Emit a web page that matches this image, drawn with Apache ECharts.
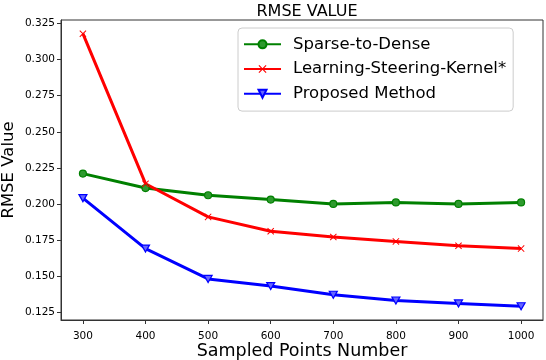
<html>
<head>
<script src="https://cdn.jsdelivr.net/npm/echarts@6/dist/echarts.min.js"></script>
<style>
body { margin: 0; background: #fff; }
#container { width: 546px; height: 360px; }
</style>
</head>
<body>
<div id="container"></div>
<script>
var pointsNum = [300, 400, 500, 600, 700, 800, 900, 1000];
var sparseToDense = [0.221, 0.211, 0.206, 0.203, 0.200, 0.201, 0.200, 0.201];
var steeringKernel = [0.318, 0.214, 0.191, 0.181, 0.177, 0.174, 0.171, 0.169];
var proposed = [0.204, 0.169, 0.148, 0.143, 0.137, 0.133, 0.131, 0.129];
var xTicks = [300, 400, 500, 600, 700, 800, 900, 1000];
var yTicks = [0.125, 0.150, 0.175, 0.200, 0.225, 0.250, 0.275, 0.300, 0.325];

function pairs(vals) {
  return pointsNum.map(function (x, i) { return [x, vals[i]]; });
}

var font = 'DejaVu Sans';
var xMark = 'path://M0,1L1,0L5,4L9,0L10,1L6,5L10,9L9,10L5,6L1,10L0,9L4,5Z';
var triDown = 'path://M0,0L10,0L5,9Z';

var myChart = echarts.init(document.getElementById('container'));
var option = {
  animation: false,
  textStyle: { fontFamily: font },
  title: {
    text: 'RMSE VALUE',
    left: 302, top: -9, textAlign: 'center',
    textStyle: { fontFamily: font, fontSize: 16, fontWeight: 'normal', color: '#000' }
  },
  grid: {
    left: 61, right: 3, top: 20, bottom: 40,
    containLabel: false, outerBoundsMode: 'none',
    show: true, borderColor: '#333', borderWidth: 1, backgroundColor: 'transparent'
  },
  legend: {
    left: 238, top: 28, orient: 'vertical',
    itemWidth: 37, itemHeight: 10, itemGap: -8,
    padding: [0, 7, 1, 5],
    backgroundColor: 'rgba(255,255,255,0.85)',
    borderColor: '#ccc', borderWidth: 1, borderRadius: 4,
    textStyle: { fontFamily: font, fontSize: 16.5, color: '#000', padding: [0, 0, 0, 7] },
    data: ['Sparse-to-Dense', 'Learning-Steering-Kernel*', 'Proposed Method']
  },
  xAxis: {
    type: 'value', min: 265, max: 1035,
    name: 'Sampled Points Number', nameLocation: 'middle', nameGap: 14,
    nameMoveOverlap: false,
    nameTextStyle: { fontFamily: font, fontSize: 17.5, color: '#000' },
    splitLine: { show: false },
    axisLine: { lineStyle: { color: '#333', width: 1 } },
    axisTick: { customValues: xTicks, length: 4, lineStyle: { color: '#333' } },
    axisLabel: {
      customValues: xTicks, fontSize: 10.5, color: '#000', margin: 6,
      formatter: function (v) { return String(v); }
    }
  },
  yAxis: {
    type: 'value', min: 0.1195, max: 0.3275,
    name: 'RMSE Value', nameLocation: 'middle', nameGap: 36,
    nameMoveOverlap: false,
    nameTextStyle: { fontFamily: font, fontSize: 16.5, color: '#000' },
    splitLine: { show: false },
    axisLine: { show: true, lineStyle: { color: '#333', width: 1 } },
    axisTick: { show: true, customValues: yTicks, length: 4, lineStyle: { color: '#333' } },
    axisLabel: {
      customValues: yTicks, fontSize: 10.5, color: '#000', margin: 6,
      formatter: function (v) { return v.toFixed(3); }
    }
  },
  series: [
    {
      name: 'Sparse-to-Dense', type: 'line', data: pairs(sparseToDense),
      symbol: 'circle', symbolSize: 7,
      lineStyle: { color: 'green', width: 3 },
      itemStyle: { color: '#2e9a2e', borderColor: 'green', borderWidth: 1.2 }
    },
    {
      name: 'Learning-Steering-Kernel*', type: 'line', data: pairs(steeringKernel),
      symbol: xMark, symbolSize: 7,
      lineStyle: { color: 'red', width: 3 },
      itemStyle: { color: 'red' }
    },
    {
      name: 'Proposed Method', type: 'line', data: pairs(proposed),
      symbol: triDown, symbolSize: [8, 7],
      lineStyle: { color: 'blue', width: 3 },
      itemStyle: { color: '#6666ff', borderColor: 'blue', borderWidth: 1.2 }
    }
  ]
};
myChart.setOption(option);
</script>
</body>
</html>
